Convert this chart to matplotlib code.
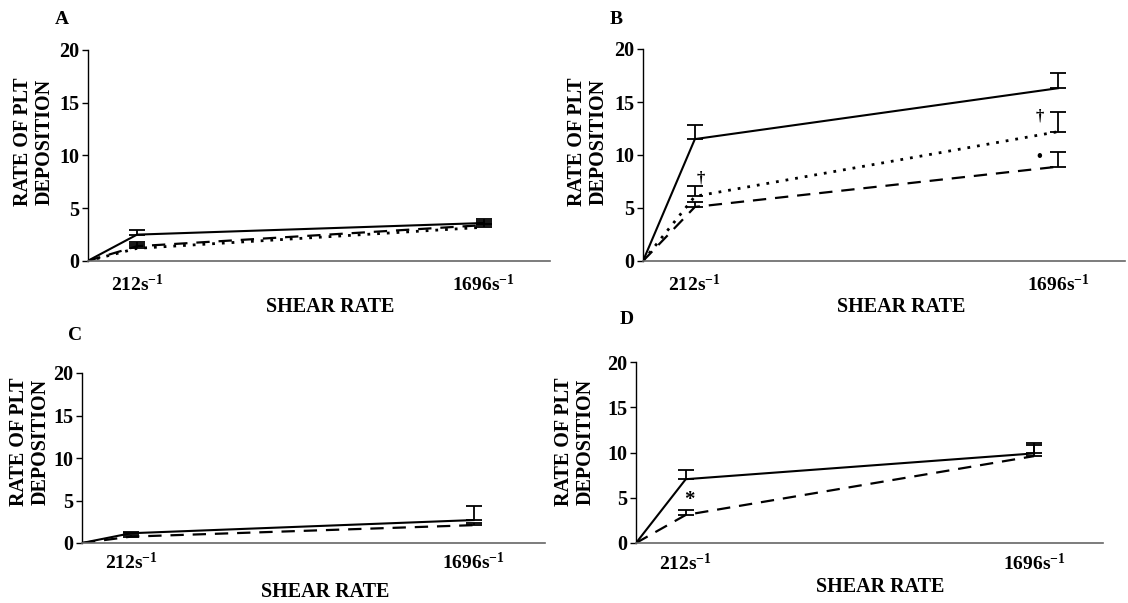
import matplotlib

matplotlib.use("Agg")
import matplotlib.pyplot as plt

plt.rcParams["font.family"] = ["Liberation Serif", "DejaVu Serif"]
plt.rcParams["font.weight"] = "bold"
plt.rcParams["mathtext.fontset"] = "custom"
plt.rcParams["mathtext.rm"] = "Liberation Serif:bold"
plt.rcParams["mathtext.it"] = "Liberation Serif:bold"
plt.rcParams["mathtext.bf"] = "Liberation Serif:bold"
plt.rcParams["mathtext.default"] = "rm"

# shear rates (s^-1), origin included
shear = [0, 212, 1696]
shear_labels = [r"212s$^{-1}$", r"1696s$^{-1}$"]

# rate of platelet deposition, mean and upper SEM
a_solid = [0, 2.5, 3.6]
a_solid_err = [0, 0.45, 0.4]
a_dotted = [0, 1.2, 3.2]
a_dotted_err = [0, 0.4, 0.3]
a_dashed = [0, 1.4, 3.4]
a_dashed_err = [0, 0.4, 0.35]

b_solid = [0, 11.5, 16.3]
b_solid_err = [0, 1.3, 1.4]
b_dotted = [0, 6.1, 12.2]
b_dotted_err = [0, 1.0, 1.9]
b_dashed = [0, 5.1, 8.9]
b_dashed_err = [0, 0.5, 1.4]

c_solid = [0, 1.15, 2.7]
c_solid_err = [0, 0.2, 1.6]
c_dashed = [0, 0.75, 2.1]
c_dashed_err = [0, 0.2, 0.3]

d_solid = [0, 7.05, 9.9]
d_solid_err = [0, 1.0, 1.2]
d_dashed = [0, 3.1, 9.6]
d_dashed_err = [0, 0.6, 1.2]

styles = {
    "solid": dict(linestyle="-", linewidth=1.5),
    "dotted": dict(linestyle=(0, (1, 2.5)), linewidth=2.0),
    "dashed": dict(linestyle=(0, (6, 4)), linewidth=1.6),
}

W, H = 1128, 603
fig = plt.figure(figsize=(W / 100, H / 100), dpi=100)


def px_axes(left, top, right, bottom):
    return fig.add_axes(
        [left / W, 1 - bottom / H, (right - left) / W, (bottom - top) / H]
    )


def draw_panel(ax, series, xmax, pad):
    for kind, values, err in series:
        ax.plot(shear, values, color="black", **styles[kind])
        ax.errorbar(
            shear[1:],
            values[1:],
            yerr=[[0] * len(err[1:]), err[1:]],
            fmt="none",
            ecolor="black",
            elinewidth=1.3,
            capsize=6,
            capthick=1.3,
        )
    ax.set_xlim(0, xmax)
    ax.set_ylim(0, 20)
    ax.set_yticks([0, 5, 10, 15, 20])
    ax.set_xticks(shear[1:], shear_labels)
    ax.tick_params(axis="x", length=0, pad=pad, labelsize=14)
    ax.tick_params(axis="y", length=4, width=1, pad=2, labelsize=14.5)
    for side in ("top", "right"):
        ax.spines[side].set_visible(False)
    ax.spines["left"].set_linewidth(1.0)
    ax.spines["bottom"].set_linewidth(1.2)
    ax.spines["bottom"].set_color("#666666")
    ax.set_facecolor("none")


ax_a = px_axes(87.5, 50, 550, 261)
draw_panel(
    ax_a,
    [
        ("solid", a_solid, a_solid_err),
        ("dotted", a_dotted, a_dotted_err),
        ("dashed", a_dashed, a_dashed_err),
    ],
    1980,
    9.5,
)

ax_b = px_axes(643, 49, 1125, 261)
draw_panel(
    ax_b,
    [
        ("solid", b_solid, b_solid_err),
        ("dotted", b_dotted, b_dotted_err),
        ("dashed", b_dashed, b_dashed_err),
    ],
    1970,
    9.5,
)
ax_b.text(236, 7.8, "†", ha="center", va="center", fontsize=12)
ax_b.text(1623, 13.6, "†", ha="center", va="center", fontsize=12)
ax_b.text(1618, 9.85, "•", ha="center", va="center", fontsize=12)

ax_c = px_axes(82, 373, 545, 543)
draw_panel(
    ax_c,
    [
        ("solid", c_solid, c_solid_err),
        ("dashed", c_dashed, c_dashed_err),
    ],
    2005,
    6.5,
)

ax_d = px_axes(636, 362, 1103, 543)
draw_panel(
    ax_d,
    [
        ("solid", d_solid, d_solid_err),
        ("dashed", d_dashed, d_dashed_err),
    ],
    1990,
    7,
)
ax_d.text(226, 4.8, "*", ha="center", va="center", fontsize=15)

# panel letters, axis titles
for letter, x, y in [("A", 62, 20), ("B", 616, 20), ("C", 75, 335), ("D", 627, 320)]:
    fig.text(x / W, 1 - y / H, letter, ha="center", va="center", fontsize=14)

for x, y in [(330, 307), (901, 307), (325, 592), (880, 587)]:
    fig.text(x / W, 1 - y / H, "SHEAR RATE", ha="center", va="center", fontsize=14.5)

for x, y in [(34, 142), (588, 142), (30, 442), (575, 442)]:
    fig.text(
        x / W,
        1 - y / H,
        "RATE OF PLT\nDEPOSITION",
        ha="center",
        va="center",
        rotation=90,
        multialignment="center",
        linespacing=1.1,
        fontsize=14.5,
    )

fig.savefig("out.png", dpi=100)
